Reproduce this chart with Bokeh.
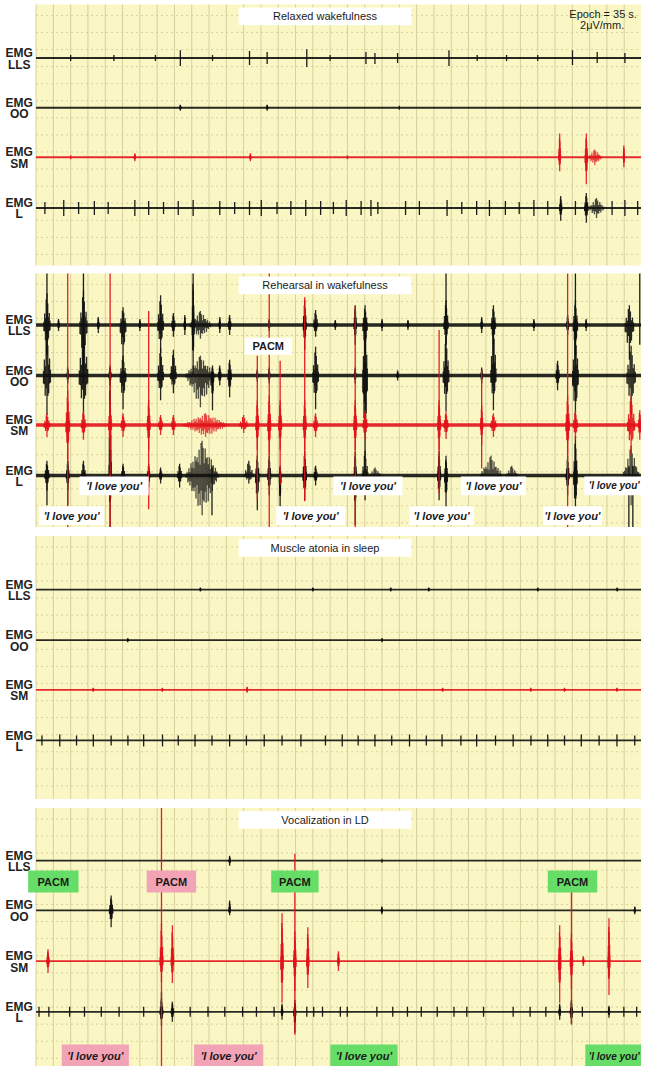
import numpy as np
from bokeh.plotting import figure
from bokeh.layouts import column
from bokeh.models import Range1d, ColumnDataSource
from bokeh.embed import file_html
from bokeh.resources import INLINE
from bokeh.core.properties import value

# ---------------------------------------------------------------- data
EPOCH = 35.0                      # seconds per page
CHANNELS = ["LLS", "OO", "SM", "L"]
TITLES = ["Relaxed wakefulness", "Rehearsal in wakefulness",
          "Muscle atonia in sleep", "Vocalization in LD"]

# EMG events per channel: (time s, half-duration s, deflection up, deflection down)
# --- Panel 1: relaxed wakefulness
P1_LLS = [(2.0, 0, 3, 3), (4.5, 0, 3, 3), (6.9, 0, 3, 3), (8.34, 0, 8, 8), (10.2, 0, 3, 3),
          (12.34, 0, 7, 7), (13.36, 0, 6, 6), (15.65, 0, 9, 9), (17.0, 0, 3, 3), (19.07, 0, 6, 6),
          (19.59, 0, 5, 6), (20.90, 0, 5, 5), (23.87, 0, 8, 8), (25.5, 0, 3, 3), (27.2, 0, 3, 3),
          (29.0, 0, 3, 3), (31.01, 0, 8, 7), (32.44, 0, 6, 5), (34.04, 0, 5, 5)]
P1_OO = [(8.34, 0.05, 3, 3), (13.36, 0.05, 3, 3), (21.0, 0, 2, 2)]
P1_SM = [(2.0, 0, 2, 2), (5.71, 0.05, 4, 4), (12.39, 0.05, 4, 4), (18.0, 0, 2, 2),
         (30.27, 0.06, 24, 14), (31.81, 0.08, 24, 27), (32.3, 0.45, 8, 8), (33.98, 0.03, 12, 10)]
P1_L = [(0.51, 0, 6, 6), (1.60, 0, 8, 8), (2.46, 0, 6, 6), (3.37, 0, 7, 7), (4.17, 0, 6, 6),
        (5.71, 0, 8, 8), (6.51, 0, 7, 7), (7.37, 0, 6, 6), (8.22, 0, 7, 7), (9.08, 0, 8, 8),
        (10.62, 0, 7, 7), (11.48, 0, 6, 6), (12.34, 0, 7, 7), (13.02, 0, 8, 8), (13.93, 0, 6, 6),
        (14.73, 0, 7, 7), (15.59, 0, 8, 8), (16.45, 0, 7, 7), (17.19, 0, 6, 6), (17.93, 0, 8, 8),
        (18.79, 0, 7, 7), (19.36, 0, 8, 8), (19.76, 0, 6, 6), (21.36, 0, 7, 7), (22.16, 0, 7, 7),
        (23.76, 0, 8, 8), (24.61, 0, 6, 6), (25.47, 0, 7, 7), (26.21, 0, 8, 8), (27.13, 0, 7, 7),
        (27.93, 0, 6, 6), (28.78, 0, 8, 8), (29.58, 0, 7, 7), (30.33, 0.08, 12, 13),
        (31.18, 0, 7, 7), (31.81, 0.12, 15, 15), (32.4, 0.5, 10, 10), (33.30, 0, 7, 7),
        (34.04, 0, 8, 8), (34.78, 0, 7, 7)]

# --- Panel 2: rehearsal in wakefulness
P2_LLS = [(0.63, 0.22, 32, 30), (0.63, 0, 52, 30), (1.3, 0.05, 6, 6), (2.74, 0.25, 35, 45),
          (2.74, 0, 52, 60), (3.6, 0.05, 8, 8), (5.03, 0.2, 18, 38), (6.0, 0.05, 6, 6),
          (7.20, 0.2, 30, 28), (7.94, 0.12, 12, 12), (8.6, 0.05, 10, 10), (9.08, 0.06, 52, 50),
          (9.5, 0.7, 14, 14), (10.62, 0.05, 8, 8), (11.19, 0.1, 10, 10), (13.48, 0.05, 6, 6),
          (15.53, 0.1, 25, 25), (16.16, 0.15, 15, 12), (17.3, 0.05, 5, 5), (18.45, 0.08, 20, 20),
          (19.02, 0.15, 20, 30), (20.0, 0.05, 6, 6), (21.5, 0.05, 5, 5), (23.70, 0.15, 25, 20),
          (23.70, 0, 52, 20), (25.76, 0.06, 8, 8), (26.44, 0.15, 20, 20), (28.78, 0.06, 6, 6),
          (30.73, 0.08, 10, 10), (31.18, 0.15, 25, 30), (31.18, 0, 52, 30), (31.8, 0.05, 6, 6),
          (34.3, 0.3, 20, 35), (34.9, 0, 52, 20)]
P2_OO = [(0.63, 0.25, 45, 40), (1.83, 0.05, 8, 8), (2.74, 0.3, 50, 45), (4.28, 0.08, 10, 10),
         (5.03, 0.2, 20, 34), (7.20, 0.2, 28, 25), (7.94, 0.2, 26, 18), (9.5, 0.9, 20, 32),
         (10.2, 0.08, 10, 35), (10.62, 0.1, 10, 10), (11.19, 0.12, 16, 22), (12.79, 0.05, 6, 6),
         (13.48, 0.05, 8, 8), (16.16, 0.2, 29, 34), (18.45, 0.05, 8, 8), (19.02, 0.16, 55, 85),
         (20.9, 0.05, 5, 5), (23.70, 0.2, 40, 36), (25.76, 0.05, 8, 8), (26.44, 0.18, 55, 35),
         (30.15, 0.12, 15, 15), (31.18, 0.2, 45, 50), (34.4, 0.3, 30, 40)]
P2_SM = [(0.63, 0.2, 12, 12), (1.83, 0.12, 35, 35), (1.83, 0, 153, 103), (2.74, 0.15, 15, 15),
         (4.28, 0.1, 25, 25), (4.28, 0, 153, 103), (5.03, 0.15, 12, 12), (6.51, 0.1, 25, 25),
         (6.51, 0, 115, 85), (7.2, 0.15, 10, 10), (7.94, 0.15, 10, 10), (9.8, 1.4, 12, 12),
         (12.0, 0.3, 10, 8), (12.79, 0.1, 25, 25), (12.79, 0, 70, 75), (13.48, 0.1, 30, 30),
         (13.48, 0, 153, 103), (14.11, 0.1, 25, 25), (14.11, 0, 65, 60), (15.53, 0.1, 25, 25),
         (15.53, 0, 129, 77), (16.16, 0.15, 12, 12), (18.45, 0.1, 25, 25), (18.45, 0, 120, 103),
         (19.02, 0.15, 15, 15), (23.30, 0.1, 25, 25), (23.30, 0, 96, 69), (23.70, 0.15, 14, 14),
         (25.76, 0.08, 20, 20), (25.76, 0, 56, 44), (26.44, 0.2, 12, 12), (30.73, 0.12, 30, 30),
         (30.73, 0, 153, 103), (31.18, 0.15, 15, 15), (34.4, 0.25, 30, 30), (34.9, 0.1, 15, 15)]
P2_L = [(0.63, 0.15, 15, 15), (0.63, 0, 10, 30), (1.83, 0.1, 15, 15), (1.83, 0, 15, 30),
        (2.74, 0.15, 15, 15), (4.28, 0.07, 107, 52), (5.03, 0.12, 12, 12), (6.51, 0.08, 12, 12),
        (7.20, 0.1, 8, 8), (8.3, 0.15, 12, 12), (9.6, 1.0, 35, 40), (10.17, 0, 10, 40),
        (12.3, 0.3, 15, 8), (12.79, 0.12, 20, 35), (13.48, 0.1, 20, 20), (14.11, 0.05, 10, 40),
        (15.53, 0.12, 25, 25), (16.16, 0.12, 10, 10), (18.45, 0.08, 24, 50), (19.02, 0.2, 25, 25),
        (19.6, 0.4, 8, 14), (23.30, 0.1, 25, 25), (23.70, 0.1, 20, 33), (26.3, 0.7, 20, 10),
        (27.5, 0.4, 10, 10), (30.73, 0.1, 20, 20), (31.18, 0.12, 40, 45), (34.4, 0.5, 30, 30),
        (34.27, 0, 10, 52), (34.5, 0, 10, 52)]

# --- Panel 3: muscle atonia in sleep
P3_LLS = [(9.5, 0.04, 2, 2), (16.0, 0.04, 2, 2), (20.5, 0.04, 2, 2), (22.7, 0.04, 2, 2),
          (29.0, 0.04, 2, 2), (33.6, 0.04, 2, 2)]
P3_OO = [(5.3, 0.04, 2, 2), (20.0, 0.04, 2, 2)]
P3_SM = [(3.3, 0.04, 2, 2), (7.3, 0.04, 2, 2), (12.2, 0.04, 3, 3), (23.5, 0.04, 2, 2),
         (28.6, 0.04, 2, 2), (30.55, 0.04, 2, 2), (33.58, 0.04, 2, 2)]
P3_L = [(0.34, 0, 5, 5), (1.37, 0, 6, 6), (2.34, 0, 5, 5), (3.31, 0, 6, 6), (4.34, 0, 5, 5),
        (5.31, 0, 5, 5), (6.22, 0, 6, 6), (7.31, 0, 6, 6), (8.22, 0, 5, 5), (9.19, 0, 6, 6),
        (10.17, 0, 5, 5), (11.19, 0, 6, 6), (12.16, 0, 5, 5), (13.19, 0, 6, 6), (14.22, 0, 5, 5),
        (15.31, 0, 6, 6), (16.73, 0, 5, 5), (17.70, 0, 6, 6), (18.62, 0, 5, 5), (19.59, 0, 6, 6),
        (20.56, 0, 5, 5), (21.59, 0, 6, 6), (22.56, 0, 5, 5), (23.47, 0, 6, 6), (24.56, 0, 5, 5),
        (25.47, 0, 6, 6), (26.56, 0, 5, 5), (27.58, 0, 6, 6), (28.61, 0, 5, 5), (29.58, 0, 6, 6),
        (30.55, 0, 5, 5), (31.52, 0, 6, 6), (32.55, 0, 5, 5), (33.58, 0, 6, 6), (34.61, 0, 5, 5)]

# --- Panel 4: vocalization in lucid dreaming
P4_LLS = [(11.19, 0.04, 5, 5), (20.0, 0, 2, 2)]
P4_OO = [(4.34, 0.12, 15, 17), (11.19, 0.05, 10, 5), (19.99, 0.04, 4, 4), (34.61, 0.04, 4, 4)]
P4_SM = [(0.69, 0.08, 12, 12), (7.25, 0.1, 38, 21), (7.25, 0, 154, 106), (7.88, 0.08, 36, 22),
         (14.22, 0.08, 48, 42), (14.96, 0.08, 30, 30), (14.96, 0, 108, 74), (15.71, 0.07, 34, 27),
         (17.48, 0.05, 10, 10), (30.27, 0.08, 36, 42), (30.95, 0.08, 28, 28), (30.95, 0, 76, 64),
         (31.64, 0.04, 5, 5), (33.12, 0.06, 43, 34)]
P4_L = [(0.17, 0, 5, 5), (0.74, 0, 5, 5), (1.94, 0, 5, 5), (2.80, 0, 5, 5), (3.77, 0, 5, 5),
        (4.80, 0, 5, 5), (6.22, 0, 5, 5), (7.25, 0.1, 14, 14), (7.25, 0, 20, 6), (7.88, 0.08, 10, 10),
        (8.91, 0, 5, 5), (9.94, 0, 5, 5), (10.91, 0, 5, 5), (11.94, 0, 5, 5), (12.74, 0, 5, 5),
        (13.76, 0, 5, 5), (14.22, 0.05, 8, 8), (14.96, 0.06, 12, 21), (15.65, 0, 5, 5),
        (16.05, 0, 5, 5), (16.56, 0, 5, 5), (17.59, 0, 5, 5), (17.99, 0, 5, 5), (19.70, 0, 5, 5),
        (20.62, 0, 5, 5), (21.47, 0, 5, 5), (22.27, 0, 5, 5), (23.19, 0, 5, 5), (24.16, 0, 5, 5),
        (24.90, 0, 5, 5), (25.87, 0, 5, 5), (27.58, 0, 5, 5), (28.56, 0, 5, 5), (29.47, 0, 5, 5),
        (30.27, 0.05, 8, 8), (30.95, 0.08, 12, 12), (31.58, 0, 5, 5), (33.12, 0.04, 6, 6),
        (33.98, 0, 5, 5), (34.72, 0, 5, 5)]

PANEL_EVENTS = [(P1_LLS, P1_OO, P1_SM, P1_L), (P2_LLS, P2_OO, P2_SM, P2_L),
                (P3_LLS, P3_OO, P3_SM, P3_L), (P4_LLS, P4_OO, P4_SM, P4_L)]

# annotation texts
PACM = "PACM"
SPEECH = "'I love you'"
P4_PACM_KIND = ["green", "pink", "green", "green"]
P4_SPEECH_KIND = ["pink", "pink", "green", "green"]

# ---------------------------------------------------------------- style / layout
FONT = "Liberation Sans"
YELLOW = "#faf7c4"
GRID = "#d6d09d"
BLACK = "#111111"
RED = "#e3121b"
BOX = {"green": "#66dd66", "pink": "#f2a3b6", "white": "#ffffff"}
PXS = 17.51                       # reference pixels per second
HAIR = [0.55, 0.85, 0.4, 0.95, 0.65, 0.75, 0.5, 0.9, 0.35, 1.0]   # stroke texture of a burst


def rt(px):
    """reference-pixel x position -> seconds on the time axis"""
    return (px - 44.0) / PXS


LAYOUT = [
    dict(h=269, H=271.0, top=4.0, bot=267.0, base=(58, 108, 158, 209), tw=2.0),
    dict(h=262, H=264.5, top=4.0, bot=260.0, base=(56, 107, 157, 208), tw=3.5),
    dict(h=272, H=274.0, top=4.5, bot=269.5, base=(58.5, 109.5, 159.5, 210.5), tw=1.8),
    dict(h=263, H=264.5, top=4.5, bot=264.5, base=(57.5, 107.5, 158.5, 209.5), tw=1.8),
]


def draw_channel(p, events, base, color, tw):
    p.line(x=[0, EPOCH], y=[base, base], line_color=color, line_width=tw, line_alpha=0.9)
    x0, y0, y1, al = [], [], [], []
    for t, w, up, dn in events:
        if w <= 0:
            x0.append(t); y0.append(base - up); y1.append(base + dn); al.append(0.95)
            continue
        step = min(0.06, w / 5.0)
        half = max(2, int(round(w / step)))
        for j in range(-half, half + 1):
            k = j / half
            e = (1 - abs(k)) ** 1.0
            fu = 1.0 if j == 0 else HAIR[j % len(HAIR)]
            fd = 1.0 if j == 0 else HAIR[(j + 3) % len(HAIR)]
            x0.append(t + w * k)
            y0.append(base - up * e * fu)
            y1.append(base + dn * e * fd)
            al.append(0.9 if w <= 0.3 else 0.75)
    src = ColumnDataSource(dict(x=x0, y0=y0, y1=y1, a=al))
    p.segment(x0="x", y0="y0", x1="x", y1="y1", source=src, line_color=color,
              line_alpha="a", line_width=1.3)


def boxes(p, spans, y0, y1, colors, texts, style, size="11px", align="center"):
    p.quad(left=[rt(a) for a, b in spans], right=[rt(b) for a, b in spans],
           top=[y0] * len(spans), bottom=[y1] * len(spans),
           fill_color=colors, line_color=None)
    if align == "center":
        xs = [(rt(a) + rt(b)) / 2 for a, b in spans]
    else:
        xs = [rt(b - 2) for a, b in spans]
    p.text(x=xs, y=[(y0 + y1) / 2] * len(spans),
           text=texts, text_align=align, text_baseline="middle",
           text_font=value(FONT), text_font_size=size, text_font_style=style,
           text_color="#1a1a1a")


figs = []
for i, (L, evs) in enumerate(zip(LAYOUT, PANEL_EVENTS)):
    p = figure(width=641, height=L["h"], x_range=Range1d(rt(8), EPOCH),
               y_range=Range1d(L["H"], 0), output_backend="svg", toolbar_location=None,
               x_axis_location=None, y_axis_location=None, min_border=0,
               background_fill_color="white", border_fill_color="white",
               outline_line_color=None)
    p.grid.visible = False
    top, bot = L["top"], L["bot"]
    # paper
    p.quad(left=[0], right=[EPOCH], top=[top], bottom=[bot], fill_color=YELLOW, line_color=None)
    secs = list(range(0, int(EPOCH) + 1))
    p.multi_line(xs=[[s, s] for s in secs], ys=[[top, bot]] * len(secs),
                 line_color=GRID, line_width=1)
    rows = list(np.arange(top + 11, bot, 17.2))
    p.multi_line(xs=[[0, EPOCH]] * len(rows), ys=[[r, r] for r in rows],
                 line_color=GRID, line_width=1, line_dash="2 3")
    # traces: black channels first, red SM on top
    for ch in (0, 1, 3, 2):
        draw_channel(p, evs[ch], L["base"][ch], RED if ch == 2 else BLACK, L["tw"])
    # channel labels
    p.text(x=[rt(27)] * 4, y=[b - 5 for b in L["base"]], text=["EMG"] * 4,
           text_align="center", text_baseline="middle", text_font=value(FONT),
           text_font_size="12px", text_font_style="bold", text_color="#222222")
    p.text(x=[rt(27)] * 4, y=[b + 6.5 for b in L["base"]], text=CHANNELS,
           text_align="center", text_baseline="middle", text_font=value(FONT),
           text_font_size="12px", text_font_style="bold", text_color="#222222")
    # title box
    boxes(p, [(249, 424)], top + 3, top + 21, ["white"], [TITLES[i]], "normal")
    if i == 0:
        p.text(x=[rt(618), rt(617)], y=[top + 10, top + 21], text=["Epoch = 35 s.", "2\u03bcV/mm."],
               text_align="center", text_baseline="middle", text_font=value(FONT),
               text_font_size="11px", text_color="#1a1a1a")
    if i == 1:
        boxes(p, [(255, 303)], 69, 86, ["white"], [PACM], "bold")
        boxes(p, [(88, 158), (345, 415), (474, 540)], 209, 228,
              ["white"] * 3, [SPEECH] * 3, "bold italic")
        boxes(p, [(599, 657)], 209, 228, ["white"], [SPEECH], "bold italic", "10px", "right")
        boxes(p, [(47, 113), (287, 357), (422, 487), (557, 617)], 239, 258,
              ["white"] * 4, [SPEECH] * 4, "bold italic")
    if i == 3:
        boxes(p, [(36, 87), (156, 206), (282, 330), (562, 612)], 67.5, 89.5,
              [BOX[k] for k in P4_PACM_KIND], [PACM] * 4, "bold")
        boxes(p, [(70, 138), (204, 274), (342, 410)], 242.5, 266,
              [BOX[k] for k in P4_SPEECH_KIND[:3]], [SPEECH] * 3, "bold italic")
        boxes(p, [(600, 657)], 242.5, 266, [BOX[P4_SPEECH_KIND[3]]], [SPEECH],
              "bold italic", "10px", "right")
    figs.append(p)

layout = column(*figs, spacing=0)
open("out.html", "w").write(file_html(layout, INLINE))
